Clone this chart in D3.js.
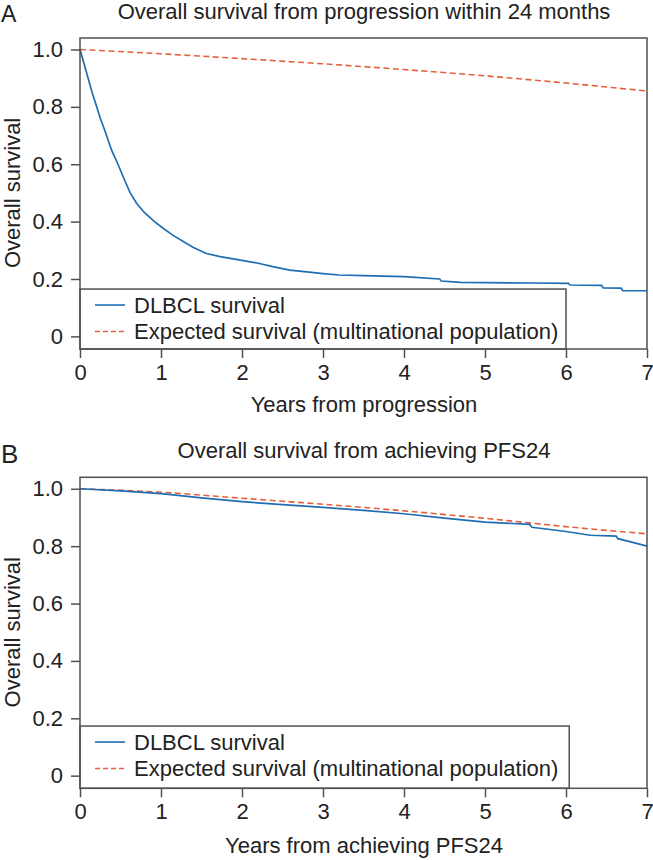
<!DOCTYPE html>
<html>
<head>
<meta charset="utf-8">
<script src="https://cdn.jsdelivr.net/npm/d3@7"></script>
<style>
  body { margin: 0; background: #fff; }
  svg text { font-family: "Liberation Sans", Arial, sans-serif; fill: #222; }
</style>
</head>
<body>
<svg id="chart" width="653" height="860"></svg>
<script>
// years, overall survival
var dlbclA = [[0,1.0],[0.05,0.95],[0.1,0.9],[0.15,0.85],[0.206,0.8],[0.25,0.76],[0.3,0.723],
  [0.39,0.649],[0.47,0.599],[0.55,0.545],[0.617,0.502],[0.7,0.463],[0.8,0.43],[0.92,0.4],
  [1.03,0.376],[1.15,0.352],[1.28,0.33],[1.4,0.31],[1.56,0.289],[1.73,0.278],[1.98,0.266],
  [2.2,0.255],[2.38,0.243],[2.59,0.231],[2.8,0.225],[3.0,0.219],[3.2,0.214],
  [3.5,0.212],[4.0,0.208],[4.44,0.2],[4.46,0.193],[4.7,0.188],[5.6,0.186],[6.03,0.185],[6.05,0.179],
  [6.44,0.178],[6.46,0.169],[6.68,0.168],[6.7,0.159],[7.0,0.159]];
var expectedA = [[0,1],[1,0.985],[2,0.968],[3,0.95],[4,0.93],[5,0.908],[6,0.883],[7,0.855]];

var dlbclB = [[0,1],[0.5,0.993],[1,0.983],[1.5,0.968],[2,0.955],[2.5,0.945],[3,0.935],[3.5,0.925],
  [4,0.913],[4.5,0.898],[5,0.884],[5.55,0.876],[5.58,0.866],[6,0.851],[6.3,0.838],[6.62,0.835],
  [6.64,0.826],[6.8,0.815],[7,0.8]];
var expectedB = [[0,1],[1,0.988],[2,0.967],[3,0.946],[4,0.923],[5,0.897],[6,0.868],[7,0.843]];

var xTicks = [0,1,2,3,4,5,6,7];
var yTicks = [0,0.2,0.4,0.6,0.8,1.0];
var yTickLabels = ["0","0.2","0.4","0.6","0.8","1.0"];
var legendLabels = ["DLBCL survival","Expected survival (multinational population)"];

var blue = "#1f6db3", orange = "#e5603a", axisCol = "#505050";
var svg = d3.select("#chart");

function drawPanel(p) {
  var g = svg.append("g").attr("transform", "translate(0," + p.top + ")");
  var x = d3.scaleLinear().domain([0, 7]).range([80, 647]);
  var y = d3.scaleLinear().domain([-0.044, 1.04]).range([311, 0]);

  g.append("text").attr("x", 1).attr("y", p.letterY).attr("font-size", p.letterSize).text(p.letter);
  g.append("text").attr("x", 364).attr("y", p.titleY).attr("text-anchor", "middle")
    .attr("font-size", 22).text(p.title);

  var line = d3.line().x(function(d) { return x(d[0]); }).y(function(d) { return y(d[1]); });

  g.append("path").datum(p.expected).attr("d", line.curve(d3.curveMonotoneX))
    .attr("fill", "none").attr("stroke", orange).attr("stroke-width", 1.6)
    .attr("stroke-dasharray", "6,3.5");
  g.append("path").datum(p.dlbcl).attr("d", line.curve(d3.curveLinear))
    .attr("fill", "none").attr("stroke", blue).attr("stroke-width", 1.7);

  // legend box
  var lx = x(p.legendEdge), ly = y(p.legendTop);
  g.append("rect").attr("x", 80).attr("y", ly).attr("width", lx - 80).attr("height", 311 - ly)
    .attr("fill", "#fff").attr("stroke", axisCol).attr("stroke-width", 1.5);
  var rows = [{c: blue, dash: null}, {c: orange, dash: "5,3"}];
  rows.forEach(function(r, i) {
    var yy = ly + 16 + i * 26.5;
    g.append("line").attr("x1", 95).attr("x2", 125).attr("y1", yy).attr("y2", yy)
      .attr("stroke", r.c).attr("stroke-width", 1.6).attr("stroke-dasharray", r.dash);
    g.append("text").attr("x", 134).attr("y", yy + 7.7).attr("font-size", 22).text(legendLabels[i]);
  });

  // frame
  g.append("rect").attr("x", 80).attr("y", 0).attr("width", 567).attr("height", 311)
    .attr("fill", "none").attr("stroke", axisCol).attr("stroke-width", 1.5);

  var yAxis = g.append("g").attr("transform", "translate(80,0)")
    .call(d3.axisLeft(y).tickValues(yTicks).tickSize(9).tickPadding(8)
      .tickFormat(function(d, i) { return yTickLabels[i]; }));
  var xAxis = g.append("g").attr("transform", "translate(0,311)")
    .call(d3.axisBottom(x).tickValues(xTicks).tickSize(9).tickPadding(6).tickFormat(d3.format("d")));
  [yAxis, xAxis].forEach(function(a) {
    a.select(".domain").remove();
    a.selectAll("line").attr("stroke", axisCol).attr("stroke-width", 1.5);
    a.selectAll("text").attr("font-size", 22).attr("fill", "#222")
      .style("font-family", "'Liberation Sans', Arial, sans-serif");
  });

  g.append("text").attr("x", 364).attr("y", p.xLabelY).attr("text-anchor", "middle")
    .attr("font-size", 22).text(p.xLabel);
  g.append("text").attr("transform", "translate(20," + y(0.5) + ") rotate(-90)")
    .attr("text-anchor", "middle").attr("font-size", 22).text("Overall survival");
}

drawPanel({top: 38, letter: "A", letterSize: 23, letterY: -16, title: "Overall survival from progression within 24 months",
  titleY: -19, dlbcl: dlbclA, expected: expectedA, legendEdge: 6, legendTop: 0.165,
  xLabel: "Years from progression", xLabelY: 373.7});
drawPanel({top: 477.3, letter: "B", letterSize: 26, letterY: -14.6, title: "Overall survival from achieving PFS24",
  titleY: -19.3, dlbcl: dlbclB, expected: expectedB, legendEdge: 6.04, legendTop: 0.173,
  xLabel: "Years from achieving PFS24", xLabelY: 375.4});
</script>
</body>
</html>
